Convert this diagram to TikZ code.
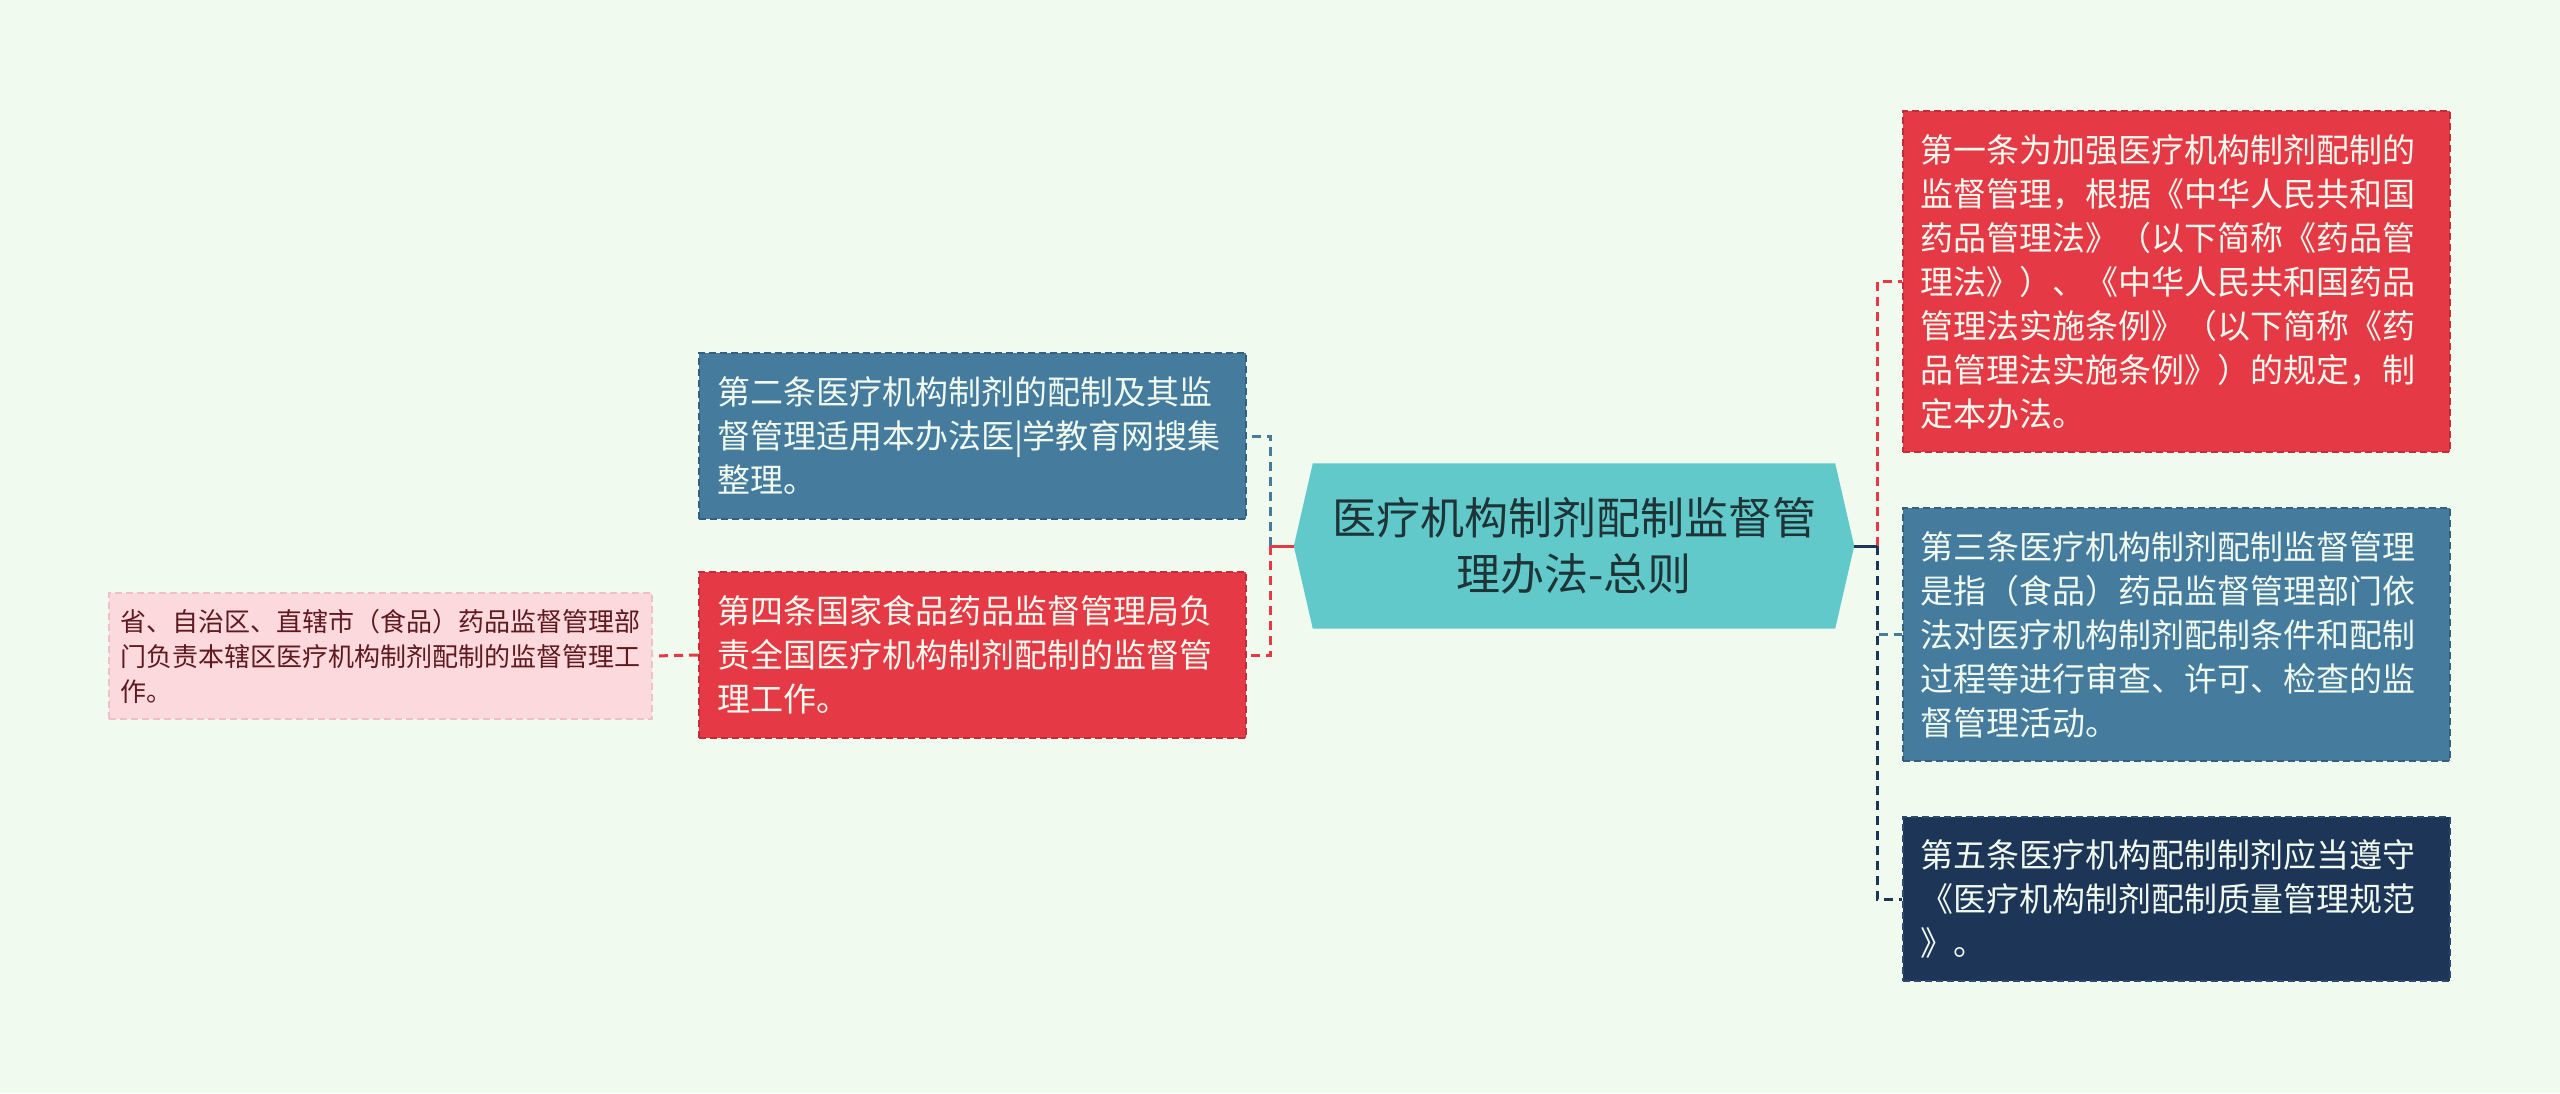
\documentclass[tikz,border=0pt]{standalone}
\usepackage{fontspec}
\newfontfamily\cjk{Noto Sans CJK SC}
\usepackage{tikz}
\usetikzlibrary{positioning}
\usetikzlibrary{calc}
\usetikzlibrary{backgrounds}
\definecolor{bgc}{HTML}{F1FAEE}
\definecolor{rootc}{HTML}{62C9CB}
\definecolor{roottxt}{HTML}{1E3436}
\definecolor{redc}{HTML}{E63946}
\definecolor{reddk}{HTML}{C42C3A}
\definecolor{bluec}{HTML}{457B9D}
\definecolor{bluedk}{HTML}{33607E}
\definecolor{navyc}{HTML}{1D3557}
\definecolor{navydk}{HTML}{2C4A70}
\definecolor{pinkc}{HTML}{FCD9DC}
\definecolor{pinkdk}{HTML}{F2BFC4}
\definecolor{pinktxt}{HTML}{5E1A20}

\begin{document}
\begin{tikzpicture}[x=1pt,y=-1pt,
	every node/.style={font=\cjk},
	box/.style={rectangle,line width=2pt,dash pattern=on 7pt off 4pt,
		inner xsep=18pt,inner ysep=0pt,text width=511pt,align=left,text=bgc,
		font=\cjk\fontsize{33}{44}\selectfont},
	small/.style={rectangle,line width=2pt,dash pattern=on 7pt off 4pt,
		inner xsep=11.5pt,inner ysep=0pt,text width=520pt,align=left,text=pinktxt,
		font=\cjk\fontsize{26}{35}\selectfont},
	link/.style={line width=3pt,dash pattern=on 9pt off 6pt},
	stub/.style={line width=3pt}
	]
	
	\useasboundingbox (0,0) rectangle (2560,1093);
	
	% central topic
	\node[rectangle,minimum width=560pt,minimum height=165pt,inner sep=0pt,align=center,
		text=roottxt,font=\cjk\fontsize{44}{56}\selectfont] (root) at (1574,546)
		{医疗机构制剂配制监督管\\理办法-总则};
	
	% left branch
	\node[box,fill=bluec,draw=bluedk,minimum height=166pt] (a2) at (972.5,436)
		{第二条医疗机构制剂的配制及其监\\督管理适用本办法医|学教育网搜集\\整理。};
	\node[box,fill=redc,draw=reddk,minimum height=166pt] (a4) at (972.5,655)
		{第四条国家食品药品监督管理局负\\责全国医疗机构制剂配制的监督管\\理工作。};
	\node[small,fill=pinkc,draw=pinkdk,minimum height=126pt] (p4) at (380.5,656)
		{省、自治区、直辖市（食品）药品监督管理部\\门负责本辖区医疗机构制剂配制的监督管理工\\作。};
	
	% right branch
	\node[box,fill=redc,draw=reddk,minimum height=341pt] (a1) at (2176,281.5)
		{第一条为加强医疗机构制剂配制的\\监督管理，根据《中华人民共和国\\药品管理法》（以下简称《药品管\\理法》）、《中华人民共和国药品\\管理法实施条例》（以下简称《药\\品管理法实施条例》）的规定，制\\定本办法。};
	\node[box,fill=bluec,draw=bluedk,minimum height=253pt] (a3) at (2176,634.5)
		{第三条医疗机构制剂配制监督管理\\是指（食品）药品监督管理部门依\\法对医疗机构制剂配制条件和配制\\过程等进行审查、许可、检查的监\\督管理活动。};
	\node[box,fill=navyc,draw=navydk,minimum height=164pt] (a5) at (2176,899)
		{第五条医疗机构配制制剂应当遵守\\《医疗机构制剂配制质量管理规范\\》。};
	
	\coordinate (lj) at ($(root.west)+(-23,0)$);
	\coordinate (rj) at ($(root.east)+(23,0)$);
	
	% hexagon and page colour behind the nodes
	\begin{scope}[on background layer]
		\fill[bgc] (0,0) rectangle (2560,1093);
		\fill[rootc] (root.west) -- ([xshift=19pt]root.north west) -- ([xshift=-19pt]root.north east)
			-- (root.east) -- ([xshift=-19pt]root.south east) -- ([xshift=19pt]root.south west) -- cycle;
	\end{scope}
	
	% connectors
	\draw[link,bluec] (lj) |- (a2.east);
	\draw[link,redc] (lj) |- (a4.east);
	\draw[stub,redc] (root.west) -- (lj);
	\draw[link,redc] (a4.west) -- (p4.east);
	
	\draw[link,redc] (rj) |- (a1.west);
	\draw[link,bluec] (rj) |- (a3.west);
	\draw[link,navyc] (rj) |- (a5.west);
	\draw[stub,navyc] (root.east) -- (rj);
	
\end{tikzpicture}
\end{document}
